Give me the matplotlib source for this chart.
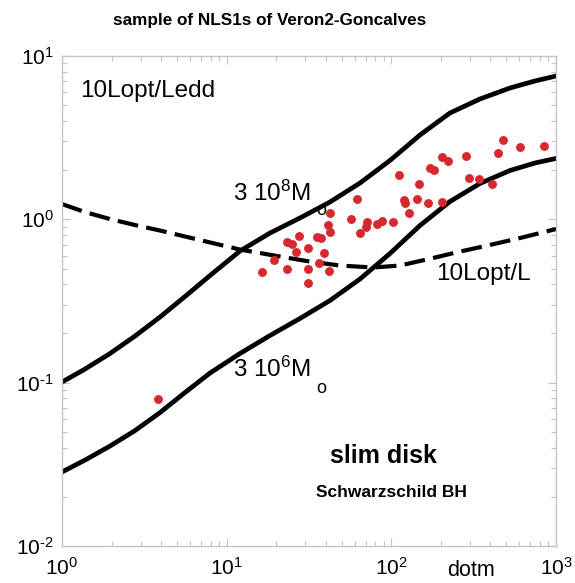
import numpy as np
import matplotlib
matplotlib.use("Agg")
import matplotlib.pyplot as plt

plt.rcParams["font.family"] = ["Liberation Sans", "DejaVu Sans"]
plt.rcParams["mathtext.fontset"] = "custom"
plt.rcParams["mathtext.rm"] = "Liberation Sans"
plt.rcParams["mathtext.it"] = "Liberation Sans"
plt.rcParams["mathtext.bf"] = "Liberation Sans:bold"

# ── curves (dotm, L/Ledd) ─────────────────────────────────────────────────────
upper_x = [1, 1.379, 1.956, 2.775, 3.936, 5.582, 7.916, 12.04, 18.32, 27.86,
           42.39, 64.48, 98.06, 149.2, 226.9, 345.1, 525.0, 744.6, 1000]
upper_y = [0.1009, 0.1211, 0.1508, 0.1929, 0.2522, 0.3368, 0.4526, 0.6396, 0.8243, 1.019,
           1.276, 1.668, 2.292, 3.283, 4.477, 5.454, 6.368, 7.030, 7.543]

lower_x = upper_x
lower_y = [0.02838, 0.03357, 0.04091, 0.05087, 0.06559, 0.08700, 0.1145, 0.1508, 0.1943, 0.2472,
           0.3183, 0.4309, 0.6175, 0.9162, 1.285, 1.657, 1.990, 2.212, 2.360]

dash_x = [1, 1.379, 1.956, 2.775, 3.936, 6.883, 12.04, 21.07, 32.05, 48.74,
          77.33, 112.8, 178.9, 253.8, 359.9, 603.7, 1000]
dash_y = [1.24, 1.108, 1.004, 0.9228, 0.8540, 0.7466, 0.6533, 0.5920, 0.5515, 0.5214,
          0.5070, 0.5214, 0.5794, 0.6307, 0.6815, 0.768, 0.8722]

# ── NLS1 sample points ────────────────────────────────────────────────────────
nls_x = [16.45, 19.45, 23.14, 24.81, 27.60, 26.35, 23.14, 31.29, 31.29, 31.03,
         35.19, 37.37, 36.34, 39.13, 41.80, 41.40, 42.39, 42.69, 57.26, 61.81,
         64.93, 70.11, 71.09, 81.42, 87.69, 101.8, 111.5, 120.1, 120.9, 127.9,
         143.7, 147.1, 167.5, 172.8, 180.6, 203.4, 202.0, 219.7, 285.8, 295.9,
         341.3, 411.1, 441.9, 476.0, 601.2, 844.3, 3.843]
nls_y = [0.4776, 0.5633, 0.7292, 0.7059, 0.7900, 0.6333, 0.4962, 0.6700, 0.4941, 0.4091,
         0.7822, 0.7649, 0.5378, 0.6192, 0.4844, 0.9228, 1.088, 0.8396, 1.004, 1.326,
         0.8243, 0.8933, 0.9667, 0.9399, 0.9723, 0.9667, 1.868, 1.313, 1.253, 1.088,
         1.326, 1.638, 1.253, 2.052, 2.004, 1.276, 2.397, 2.275, 2.431, 1.798,
         1.777, 1.652, 2.536, 3.059, 2.753, 2.818, 0.0790]

xticks = [1, 10, 100, 1000]
xticklabels = [r"10$^{0}$", r"10$^{1}$", r"10$^{2}$", r"10$^{3}$"]
yticks = [0.01, 0.1, 1, 10]
yticklabels = [r"10$^{\text{-}2}$", r"10$^{\text{-}1}$", r"10$^{0}$", r"10$^{1}$"]

fig = plt.figure(figsize=(5.75, 5.83), dpi=100)
ax = fig.add_axes([62 / 575, 1 - 546 / 583, 494 / 575, 490 / 583])

ax.plot(upper_x, upper_y, color="black", lw=3.4, solid_capstyle="round",
        solid_joinstyle="round", zorder=2)
ax.plot(lower_x, lower_y, color="black", lw=3.4, solid_capstyle="round",
        solid_joinstyle="round", zorder=2)
ax.plot(dash_x, dash_y, color="black", lw=3.0, dashes=(5, 2), zorder=2)
ax.plot(nls_x, nls_y, "o", color="#d7282d", ms=6.4, mec="none", zorder=5)

ax.set_xscale("log")
ax.set_yscale("log")
ax.set_xlim(1, 1000)
ax.set_ylim(0.01, 10)
ax.set_xticks(xticks, xticklabels)
ax.set_yticks(yticks, yticklabels)

grey = "#c4c4c4"
for s in ax.spines.values():
    s.set_color(grey)
    s.set_linewidth(1.0)
ax.tick_params(which="both", direction="in", top=True, right=True, color=grey,
               labelsize=15, width=0.8)
ax.tick_params(which="major", length=6)
ax.tick_params(which="minor", length=3.5)
ax.tick_params(axis="x", pad=8)
ax.tick_params(axis="y", pad=6)

# ── annotations ───────────────────────────────────────────────────────────────
ax.text(0.0364, 0.9163, "10Lopt/Ledd", transform=ax.transAxes, fontsize=17.5, va="baseline")
ax.text(0.757, 0.5429, "10Lopt/L", transform=ax.transAxes, fontsize=17.5, va="baseline")
ax.text(0.346, 0.704, r"3 10$^{8}$M", transform=ax.transAxes, fontsize=17.5,
        va="baseline", zorder=3)
ax.text(0.514, 0.6837, "o", transform=ax.transAxes, fontsize=13, va="center", zorder=3)
ax.text(0.346, 0.345, r"3 10$^{6}$M", transform=ax.transAxes, fontsize=17.5,
        va="baseline", zorder=3)
ax.text(0.514, 0.3224, "o", transform=ax.transAxes, fontsize=13, va="center", zorder=3)
ax.text(0.5425, 0.169, "slim disk", transform=ax.transAxes, fontsize=18,
        fontweight="bold", va="baseline")
ax.text(0.514, 0.100, "Schwarzschild BH", transform=ax.transAxes, fontsize=12.5,
        fontweight="bold", va="baseline")
ax.text(0.828, -0.05, "dotm", transform=ax.transAxes, fontsize=15.5, ha="center", va="center")

fig.text(270 / 575, 1 - 20 / 583, "sample of NLS1s of Veron2-Goncalves", fontsize=12.3,
         fontweight="bold", ha="center", va="center")

fig.savefig("out.png", dpi=100)
